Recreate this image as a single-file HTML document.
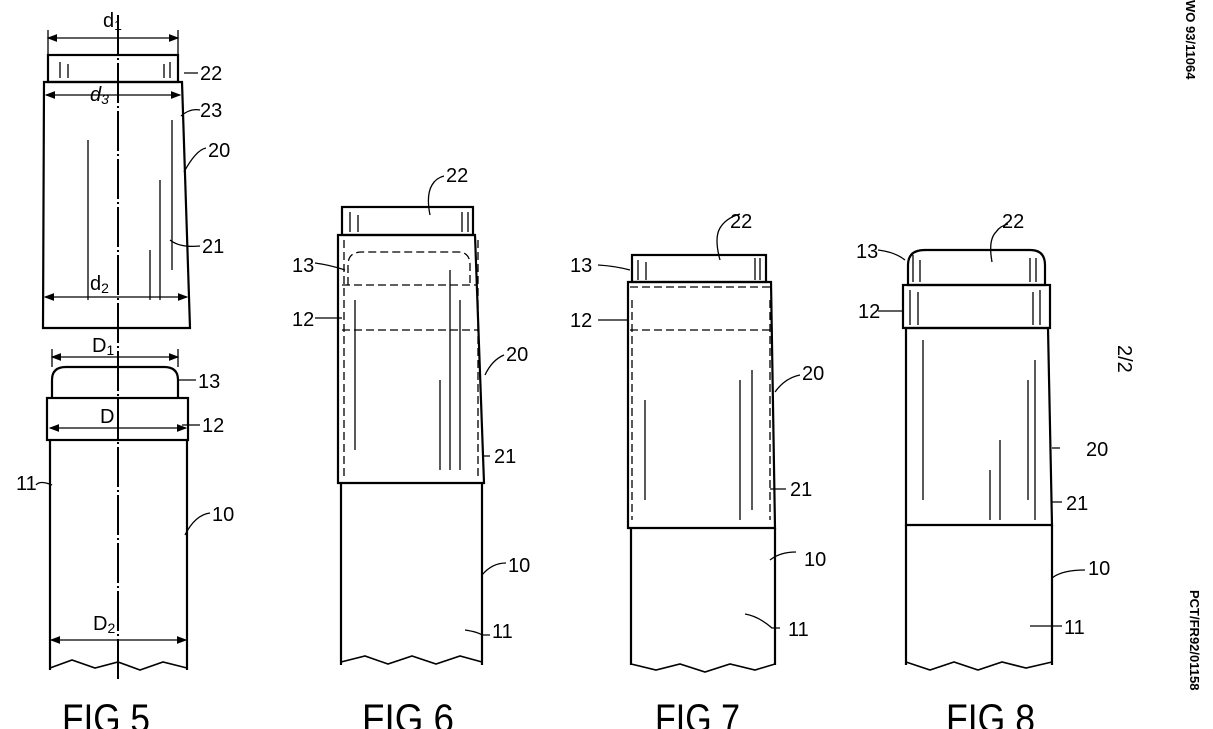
<!DOCTYPE html>
<html><head><meta charset="utf-8"><style>
html,body{margin:0;padding:0;background:#fff;width:1213px;height:729px;overflow:hidden}
svg{display:block}
text{font-family:"Liberation Sans",sans-serif;fill:#000}
.l{font-size:20px}
.f{font-size:40px}
</style></head><body>
<svg width="1213" height="729" viewBox="0 0 1213 729" xmlns="http://www.w3.org/2000/svg">
<defs><marker id="a" markerWidth="8" markerHeight="6" refX="7" refY="3" orient="auto-start-reverse"><path d="M0,0L8,3L0,6z"/></marker></defs>
<g fill="none" stroke="#000" stroke-width="2.2">
<!-- FIG 5 -->
<line x1="118" y1="15" x2="118" y2="680" stroke-width="2" stroke-dasharray="40,3,2,3"/>
<rect x="48" y="55" width="130" height="27"/>
<path d="M44,82H182L190,328H43Z"/>
<path d="M52,398V380Q52,367 66,367H164Q178,367 178,380V398"/>
<rect x="47" y="398" width="141" height="42"/>
<path d="M50,440V670M187,440V670"/>
<path d="M50,668L72,660L95,668L118,662L140,670L163,662L187,668" stroke-width="1.6"/>
<g stroke-width="1.3">
<line x1="48" y1="38" x2="178" y2="38" marker-start="url(#a)" marker-end="url(#a)"/>
<line x1="48" y1="30" x2="48" y2="55"/><line x1="178" y1="30" x2="178" y2="55"/>
<line x1="46" y1="95" x2="180" y2="95" marker-start="url(#a)" marker-end="url(#a)"/>
<line x1="45" y1="297" x2="187" y2="297" marker-start="url(#a)" marker-end="url(#a)"/>
<line x1="52" y1="357" x2="178" y2="357" marker-start="url(#a)" marker-end="url(#a)"/>
<line x1="52" y1="349" x2="52" y2="367"/><line x1="178" y1="349" x2="178" y2="367"/>
<line x1="50" y1="428" x2="186" y2="428" marker-start="url(#a)" marker-end="url(#a)"/>
<line x1="51" y1="640" x2="186" y2="640" marker-start="url(#a)" marker-end="url(#a)"/>
<path d="M60,62V78M68,64V78M170,62V78M164,64V78M88,140V300M160,180V300M172,120V270M150,250V300"/>
<path d="M184,73H198M181,116Q190,108 200,110M184,172Q196,150 206,148M170,240Q180,248 200,246M178,380H196M182,425H200M52,485Q40,480 36,485M185,535Q195,515 210,513"/>
</g>
<!-- FIG 6 -->
<rect x="342" y="207" width="131" height="28"/>
<path d="M338,235H475L484,483H338Z"/>
<path d="M341,483V665M482,483V665"/>
<path d="M341,662L365,656L388,664L412,656L436,664L460,656L482,662" stroke-width="1.6"/>
<g stroke-width="1.3">
<path d="M348,285V265Q348,252 362,252H458Q470,252 470,265V285" stroke-dasharray="8,4"/>
<path d="M342,285H476M342,330H479M344,240V480M478,240V478" stroke-dasharray="8,4"/>
<path d="M350,212V232M358,215V232M462,212V232M468,212V232M355,300V440M450,270V470M460,300V470M440,380V470M355,340V450"/>
<path d="M430,215Q426,195 432,185Q436,178 444,176M485,375Q492,360 504,355M483,456H490M482,575Q492,563 506,563M465,630Q478,632 482,635H490M315,263Q330,265 345,270M315,318H342"/>
</g>
<!-- FIG 7 -->
<rect x="632" y="255" width="134" height="27"/>
<path d="M628,282H771L775,528H628Z"/>
<path d="M631,528V665M775,528V665"/>
<path d="M631,664L656,670L680,664L705,672L730,664L755,670L775,664" stroke-width="1.6"/>
<g stroke-width="1.3">
<path d="M630,287H771M630,330H772" stroke-dasharray="8,4"/>
<path d="M632,300V520M770,300V520" stroke-dasharray="8,4"/>
<path d="M638,260V280M646,262V280M755,258V280M760,258V280M740,380V520M752,370V510M645,400V500"/>
<path d="M720,260Q714,238 720,228Q726,218 740,214M775,392Q785,378 800,375M770,489H786M770,560Q780,552 796,552M745,614Q758,616 772,628H780M598,265Q615,266 630,270M598,320H628"/>
</g>
<!-- FIG 8 -->
<path d="M908,285V265Q908,250 925,250H1030Q1045,250 1045,265V285Z"/>
<rect x="903" y="285" width="147" height="43"/>
<path d="M906,328H1048L1052,525H906Z"/>
<path d="M906,525V665M1052,525V665"/>
<path d="M906,662L930,670L954,662L978,670L1002,662L1026,668L1052,662" stroke-width="1.6"/>
<g stroke-width="1.3">
<path d="M913,255V282M920,260V282M1030,258V282M1036,258V282M910,290V325M918,292V325M1040,290V325M1033,292V325M923,340V500M1035,360V520M1028,380V500M1000,440V520M990,470V520"/>
<path d="M992,262Q988,240 996,232Q1000,226 1008,224M878,250Q895,252 905,260M878,311H903M1052,448H1060M1052,502H1062M1052,578Q1062,570 1085,570M1030,626H1052M1052,626H1062"/>
</g>
</g>
<!-- labels -->
<text class="l" x="103" y="27">d<tspan font-size="14" dy="3">1</tspan></text>
<text class="l" x="90" y="101" font-style="italic">d<tspan font-size="14" dy="3">3</tspan></text>
<text class="l" x="90" y="290">d<tspan font-size="14" dy="3">2</tspan></text>
<text class="l" x="92" y="352">D<tspan font-size="14" dy="3">1</tspan></text>
<text class="l" x="100" y="423" font-size="16">D</text>
<text class="l" x="93" y="630">D<tspan font-size="14" dy="3">2</tspan></text>
<text class="l" x="200" y="80">22</text>
<text class="l" x="200" y="117">23</text>
<text class="l" x="208" y="157">20</text>
<text class="l" x="202" y="253">21</text>
<text class="l" x="198" y="388">13</text>
<text class="l" x="202" y="432">12</text>
<text class="l" x="16" y="490">11</text>
<text class="l" x="212" y="521">10</text>
<text class="l" x="446" y="182">22</text>
<text class="l" x="292" y="272">13</text>
<text class="l" x="292" y="326">12</text>
<text class="l" x="506" y="361">20</text>
<text class="l" x="494" y="463">21</text>
<text class="l" x="508" y="572">10</text>
<text class="l" x="492" y="638">11</text>
<text class="l" x="730" y="228">22</text>
<text class="l" x="570" y="272">13</text>
<text class="l" x="570" y="327">12</text>
<text class="l" x="802" y="380">20</text>
<text class="l" x="790" y="496">21</text>
<text class="l" x="804" y="566">10</text>
<text class="l" x="788" y="636">11</text>
<text class="l" x="1002" y="228">22</text>
<text class="l" x="856" y="258">13</text>
<text class="l" x="858" y="318">12</text>
<text class="l" x="1086" y="456">20</text>
<text class="l" x="1066" y="510">21</text>
<text class="l" x="1088" y="575">10</text>
<text class="l" x="1064" y="634">11</text>
<text class="f" x="62" y="732" textLength="88" lengthAdjust="spacingAndGlyphs">FIG 5</text>
<text class="f" x="362" y="732" textLength="92" lengthAdjust="spacingAndGlyphs">FIG 6</text>
<text class="f" x="655" y="732" textLength="85" lengthAdjust="spacingAndGlyphs">FIG 7</text>
<text class="f" x="946" y="732" textLength="89" lengthAdjust="spacingAndGlyphs">FIG 8</text>
<text font-size="20" transform="translate(1118,345) rotate(90)">2/2</text>
<text font-size="13" font-weight="bold" transform="translate(1186,0) rotate(90)">WO 93/11064</text>
<text font-size="13" font-weight="bold" transform="translate(1190,590) rotate(90)">PCT/FR92/01158</text>
</svg>
</body></html>
